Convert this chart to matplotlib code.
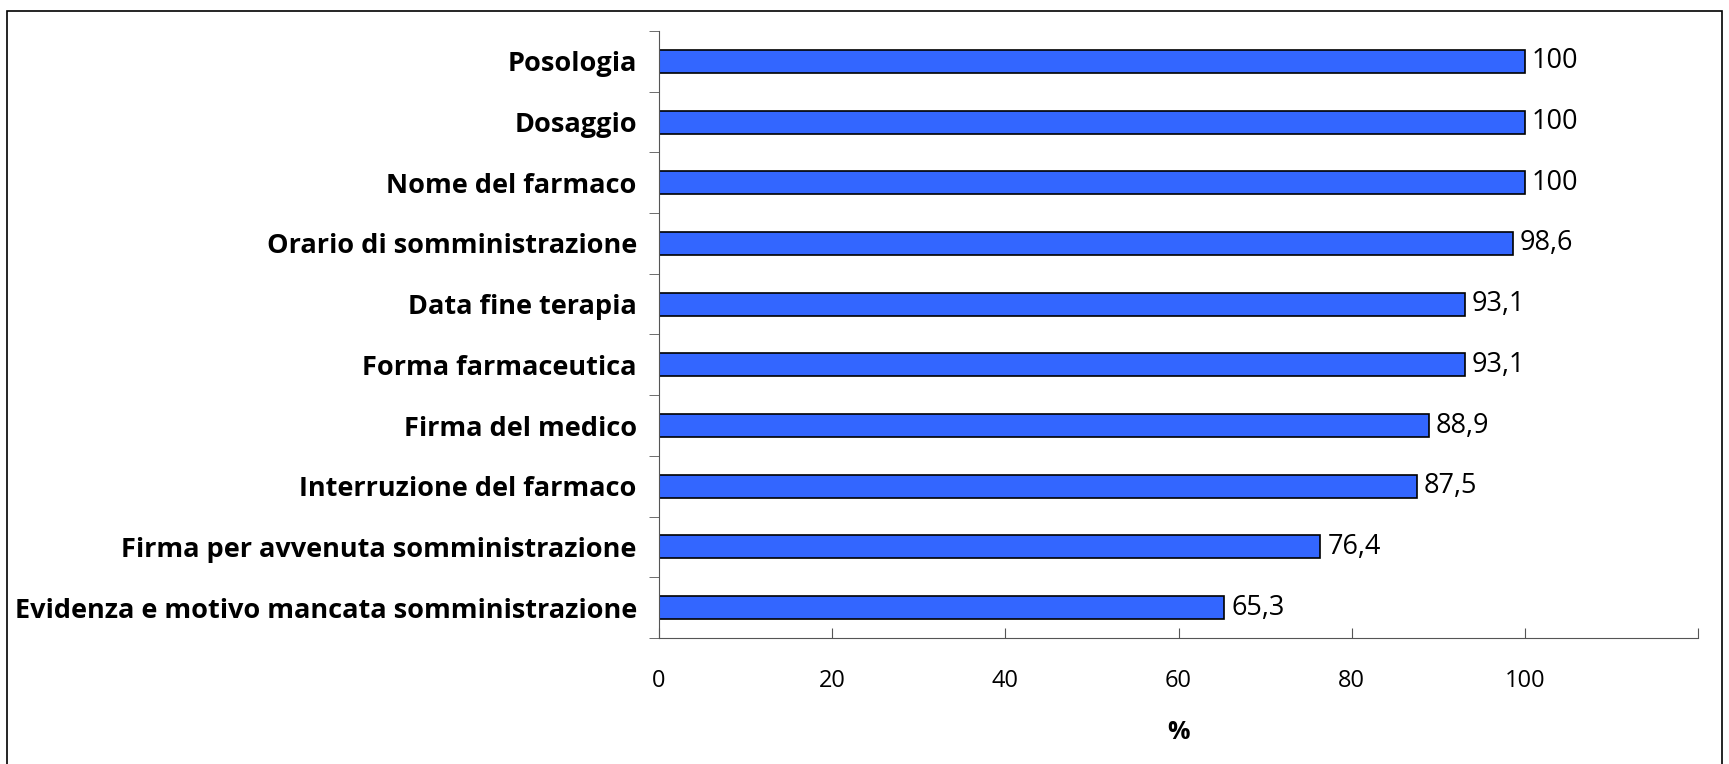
import matplotlib
matplotlib.use("Agg")
import matplotlib.pyplot as plt
from matplotlib.patches import Rectangle

categories = [
    "Evidenza e motivo mancata somministrazione",
    "Firma per avvenuta somministrazione",
    "Interruzione del farmaco",
    "Firma del medico",
    "Forma farmaceutica",
    "Data fine terapia",
    "Orario di somministrazione",
    "Nome del farmaco",
    "Dosaggio",
    "Posologia",
]
values = [65.3, 76.4, 87.5, 88.9, 93.1, 93.1, 98.6, 100, 100, 100]
xticks = [0, 20, 40, 60, 80, 100, 120]
xticklabels = ["0", "20", "40", "60", "80", "100", ""]

plt.rcParams['font.family'] = ['Open Sans', 'DejaVu Sans']

W, H = 1729, 764
fig = plt.figure(figsize=(W / 100, H / 100), dpi=100)
ax = fig.add_axes([659 / W, (H - 638) / H, (1698 - 659) / W, (638 - 31) / H])

pos = list(range(len(categories)))
ax.barh(pos, values, height=0.38, color="#3366FF", edgecolor="black", linewidth=1.2)
for p, v in zip(pos, values):
    ax.text(v + 0.8, p, ("%g" % v).replace(".", ","), va="center", ha="left",
            fontsize=19.5)

ax.set_xlim(0, 120)
ax.set_ylim(-0.5, len(categories) - 0.5)
ax.set_xticks(xticks)
ax.set_xticklabels(xticklabels)
ax.set_yticks(pos)
ax.set_yticklabels(categories, fontweight="bold")
ax.set_yticks([p - 0.5 for p in pos] + [len(categories) - 0.5], minor=True)
ax.tick_params(axis="y", which="major", length=0, pad=16, labelsize=19.5)
ax.tick_params(axis="y", which="minor", length=7, direction="out", color="#555555")
ax.tick_params(axis="x", length=7, direction="in", pad=22, color="#555555",
               labelsize=17)
ax.xaxis.set_ticks_position("bottom")
for s in ["top", "right"]:
    ax.spines[s].set_visible(False)
ax.spines["left"].set_color("#555555")
ax.spines["bottom"].set_color("#555555")
ax.set_xlabel("%", fontsize=18, fontweight="bold", labelpad=20)

fig.patches.append(Rectangle((7 / W, -0.02), (1722 - 7) / W, 1 - 11 / H + 0.02,
                             transform=fig.transFigure, fill=False,
                             edgecolor="black", linewidth=1.2))

fig.savefig("out.png", dpi=100)
